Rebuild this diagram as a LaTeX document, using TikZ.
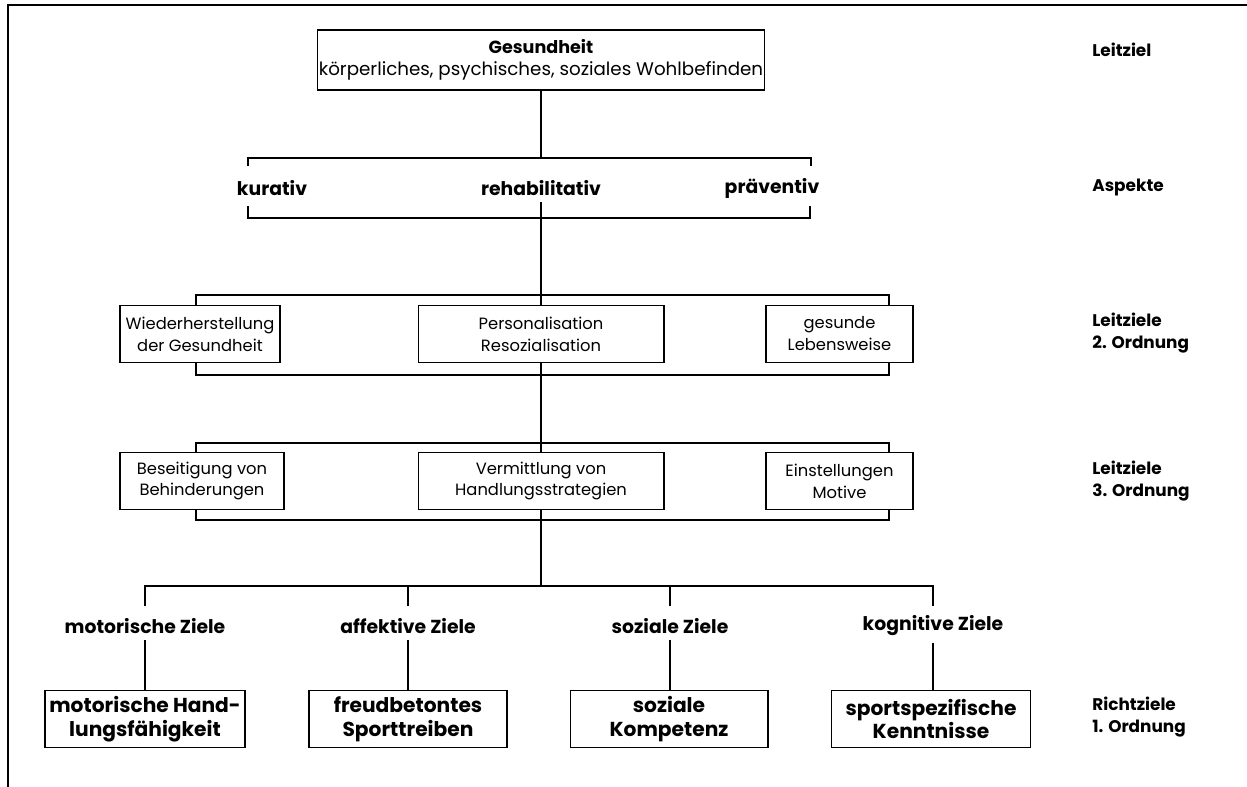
\documentclass[tikz,border=0pt]{standalone}
\usepackage{fontspec}
\setmainfont{Poppins}
\usetikzlibrary{positioning}

\begin{document}
\begin{tikzpicture}[
  x=0.02cm, y=-0.02cm,
  line width=0.6pt,
  box/.style={draw, align=center, inner sep=1pt, minimum height=1.13cm, font=\fontsize{9.3}{12.5}\selectfont},
  goal/.style={draw, align=center, inner sep=1pt, minimum height=1.15cm, font=\fontsize{11.5}{13.6}\selectfont\bfseries},
  aspect/.style={font=\fontsize{10.7}{12}\selectfont\bfseries},
  level/.style={anchor=west, align=left, font=\fontsize{9.6}{12.5}\selectfont\bfseries}
]
\useasboundingbox (0,0) rectangle (1247,787);

% Rahmen
\draw (8,787) -- (8,5) -- (1247,5);

% Nodes
\node[box, minimum width=8.94cm, minimum height=1.2cm, font=\fontsize{10.4}{12.5}\selectfont] (ges) at (541,60)
  {{\fontsize{10}{12}\selectfont\bfseries Gesundheit}\\ körperliches, psychisches, soziales Wohlbefinden};

\node[aspect] (kur) at (272,188) {kurativ};
\node[aspect] (reh) at (541,188) {rehabilitativ};
\node[aspect] (prae) at (772,188) {präventiv};

\node[box, minimum width=3.2cm] (wie) at (200,334) {Wiederherstellung\\der Gesundheit};
\node[box, minimum width=4.92cm] (pers) at (541,334) {Personalisation\\Resozialisation};
\node[box, minimum width=2.94cm] (leb) at (839.5,334) {gesunde\\Lebensweise};

\node[box, minimum width=3.28cm] (bes) at (202,481) {Beseitigung von\\Behinderungen};
\node[box, minimum width=4.92cm] (verm) at (541,481) {Vermittlung von\\Handlungsstrategien};
\node[box, minimum width=2.94cm] (einst) at (839.5,481) {Einstellungen\\Motive};

\node[aspect] (mot) at (145,626) {motorische Ziele};
\node[aspect] (aff) at (408,626) {affektive Ziele};
\node[aspect] (soz) at (670,626) {soziale Ziele};
\node[aspect] (kog) at (933,626) {kognitive Ziele};

\node[goal, minimum width=4cm] (motH) at (145,719) {motorische Hand-\\lungsfähigkeit};
\node[goal, minimum width=3.96cm] (freu) at (408,719) {freudbetontes\\Sporttreiben};
\node[goal, minimum width=3.96cm] (sozK) at (669,719) {soziale\\Kompetenz};
\node[goal, minimum width=3.98cm] (kenn) at (931,719) {sportspezifische\\Kenntnisse};

% Ebenen
\node[level] (l1) at (1086,50) {Leitziel};
\node[level] (l2) at (1086,188) {Aspekte};
\node[level] (l3) at (1086,333) {Leitziele\\2. Ordnung};
\node[level] (l4) at (1086,481) {Leitziele\\3. Ordnung};
\node[level] (l5) at (1086,717) {Richtziele\\1. Ordnung};

% Klammern
\coordinate (asp) at (541,158);
\draw (ges) -- (asp);
\draw (248,166) -- (248,158) -- (811,158) -- (811,166);
\draw (248,206) -- (248,218) -- (810,218) -- (810,206);
\draw (196,306) -- (196,295) -- (889,295) -- (889,306);
\draw (196,362) -- (196,375) -- (889,375) -- (889,362);
\draw (196,452) -- (196,443) -- (889,443) -- (889,452);
\draw (196,510) -- (196,520) -- (889,520) -- (889,510);

% Verbindungen
\draw (reh) -- (pers);
\draw (pers) -- (verm);
\coordinate (ziel) at (541,586);
\draw (verm) -- (ziel);
\draw (145,606) -- (145,586) -- (933,586) -- (933,606);
\draw (408,586) -- (408,606);
\draw (670,586) -- (670,606);
\foreach \a/\b in {mot/motH, aff/freu, soz/sozK, kog/kenn}
  \draw (\a) -- (\a |- \b.north);

\end{tikzpicture}
\end{document}
